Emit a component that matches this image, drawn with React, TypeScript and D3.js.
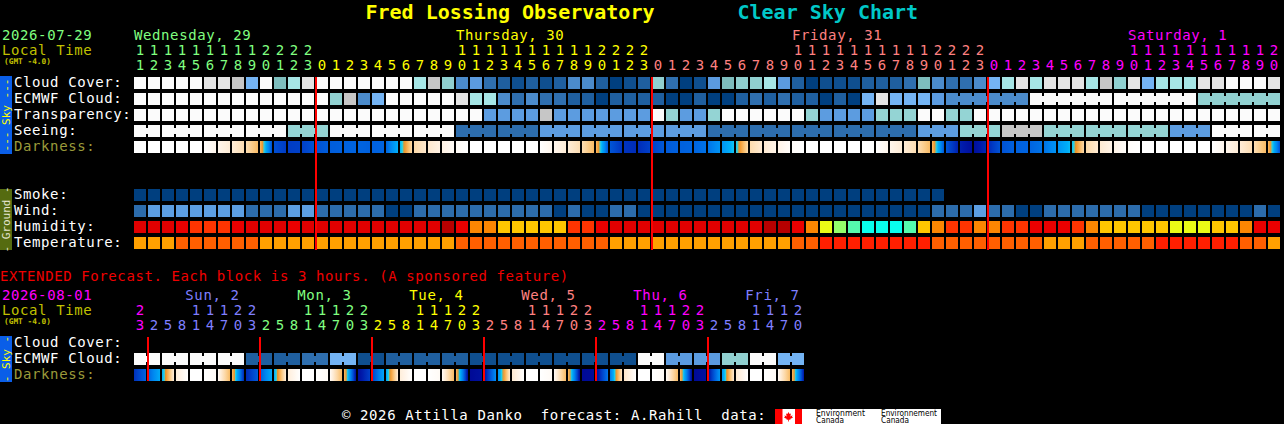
import React, { useEffect } from "react";
import * as d3 from "d3";

// ---------------- DATA ----------------
const titleText = "Fred Lossing Observatory";
const subtitleText = "Clear Sky Chart";
const mainDateText = "2026-07-29";
const extDateText = "2026-08-01";
const localTimeText = "Local Time";
const tzText = "(GMT -4.0)";
const extendedNote = "EXTENDED Forecast. Each block is 3 hours. (A sponsored feature)";
const footerText = "\u00a9 2026 Attilla Danko  forecast: A.Rahill  data:";

const skyRowLabels = ["Cloud Cover:", "ECMWF Cloud:", "Transparency:", "Seeing:", "Darkness:"];
const groundRowLabels = ["Smoke:", "Wind:", "Humidity:", "Temperature:"];
const extRowLabels = ["Cloud Cover:", "ECMWF Cloud:", "Darkness:"];

// main chart: hourly blocks
const mainDayLabels = ["Wednesday, 29", "Thursday, 30", "Friday, 31", "Saturday, 1"];
const mainDayOrdinals = [0, 1, 2, 3];
const mainDayCounts = [13, 24, 24, 21];
const mainHours = [
  11, 12, 13, 14, 15, 16, 17, 18, 19, 20, 21, 22, 23,
  0, 1, 2, 3, 4, 5, 6, 7, 8, 9, 10, 11, 12, 13, 14, 15, 16, 17, 18, 19, 20, 21, 22, 23,
  0, 1, 2, 3, 4, 5, 6, 7, 8, 9, 10, 11, 12, 13, 14, 15, 16, 17, 18, 19, 20, 21, 22, 23,
  0, 1, 2, 3, 4, 5, 6, 7, 8, 9, 10, 11, 12, 13, 14, 15, 16, 17, 18, 19, 20,
];

// cloud levels 0 (clear) .. 12 (overcast)
const cloudCover = [
  12, 12, 12, 12, 12, 11, 11, 10, 6, 12, 7, 9, 11,
  12, 12, 12, 12, 12, 12, 12, 9, 10, 8, 4, 5, 3, 2, 1, 2, 1, 2, 4, 4, 2, 0, 1, 2,
  8, 3, 0, 1, 5, 7, 8, 8, 9, 5, 2, 0, 1, 1, 1, 2, 2, 2, 3, 7, 4, 3, 3, 4,
  6, 9, 11, 9, 11, 11, 11, 9, 10, 8, 11, 6, 9, 9, 9, 11, 11, 12, 12, 12, 11,
];

// ECMWF: hourly then 6-hour groups
const ecmwfMain = [
  12, 12, 12, 12, 12, 12, 12, 12, 12, 12, 12, 12, 12,
  12, 8, 10, 4, 6, 12, 12, 12, 12, 12, 11, 9, 9, 4, 3, 4, 3, 3, 2, 2, 0, 2, 2, 2,
  2, 0, 0, 2, 0, 0, 2, 3, 2, 3, 2, 2, 0, 2, 0, 6, 11, 6, 6, 6, 5,
  4, 12, 12, 8,
];
const ecmwfMainSpans = [
  1, 1, 1, 1, 1, 1, 1, 1, 1, 1, 1, 1, 1,
  1, 1, 1, 1, 1, 1, 1, 1, 1, 1, 1, 1, 1, 1, 1, 1, 1, 1, 1, 1, 1, 1, 1, 1,
  1, 1, 1, 1, 1, 1, 1, 1, 1, 1, 1, 1, 1, 1, 1, 1, 1, 1, 1, 1, 1,
  6, 6, 6, 6,
];

// transparency / seeing: 0 too cloudy, 1..5 (5 best)
const transparency = [
  0, 0, 0, 0, 0, 0, 0, 0, 0, 0, 0, 0, 0,
  0, 0, 0, 0, 0, 0, 0, 0, 0, 0, 0, 0, 3, 3, 3, 3, 1, 3, 3, 3, 3, 3, 3, 3,
  0, 2, 3, 3, 2, 0, 0, 0, 0, 0, 0, 2, 3, 3, 3, 3, 2, 2, 2, 0, 0, 2, 2, 0,
  0, 0, 0, 0, 0, 0, 0, 0, 0, 0, 0, 0, 0, 0, 0, 0, 0, 0, 0, 0, 0,
];
const seeingSpans = [2, 3, 3, 3, 3, 3, 3, 3, 3, 3, 3, 3, 3, 3, 3, 3, 3, 3, 3, 3, 3, 3, 3, 3, 3, 3, 3, 2];
const seeing = [0, 0, 0, 0, 2, 0, 0, 0, 4, 4, 3, 3, 3, 3, 4, 4, 4, 4, 4, 3, 2, 1, 2, 2, 2, 3, 0, 0];

// darkness (limiting magnitude) at each block boundary
const darknessMain = [
  -4, -4, -4, -4, -4, -4, -3.6, -3.1, -2.4, -1.0, 4.6, 5.1, 5.0,
  4.5, 4.2, 4.1, 4.0, 4.1, 4.0, 1.6, -2.2, -2.9, -3.4, -3.8, -4, -4, -4, -4, -4, -4, -3.6, -3.1, -2.4, -1.0, 4.4, 5.3, 5.5,
  5.0, 4.3, 4.1, 4.0, 3.6, 2.6, 1.2, -2.3, -3.0, -3.5, -3.9, -4, -4, -4, -4, -4, -4, -3.6, -3.1, -2.4, -1.0, 4.4, 5.8, 6.4,
  5.6, 4.5, 4.1, 4.0, 3.6, 2.6, 1.4, -2.2, -3.0, -3.5, -3.9, -4, -4, -4, -4, -4, -4, -3.6, -3.1, -2.4, -1.0, 4.6,
];

const smoke = [
  0, 0, 0, 0, 0, 0, 0, 0, 0, 0, 0, 0, 0,
  0, 0, 0, 0, 0, 0, 0, 0, 0, 0, 0, 0, 0, 0, 0, 0, 0, 0, 0, 0, 0, 0, 0, 0,
  0, 0, 0, 0, 0, 0, 0, 0, 0, 0, 0, 0, 0, 0, 0, 0, 0, 0, 0, 0, 0,
];
// wind mph
const wind = [
  8, 14, 14, 14, 14, 14, 14, 14, 8, 8, 8, 14, 14,
  8, 8, 8, 8, 8, 3, 3, 8, 8, 8, 8, 8, 8, 8, 8, 8, 8, 3, 8, 3, 3, 8, 8, 3,
  3, 3, 3, 3, 3, 3, 3, 3, 3, 3, 3, 3, 3, 3, 3, 3, 3, 3, 3, 3, 8, 8, 8, 14,
  8, 8, 3, 3, 8, 8, 8, 8, 8, 8, 8, 3, 3, 3, 3, 3, 3, 3, 3, 8, 3,
];
// humidity %
const humidity = [
  97, 97, 97, 87, 82, 82, 82, 87, 97, 97, 97, 87, 97,
  97, 97, 97, 97, 97, 97, 97, 97, 97, 92, 87, 77, 77, 72, 72, 72, 72, 72, 82, 82, 87, 97, 97, 97,
  97, 97, 97, 97, 97, 97, 97, 97, 92, 92, 87, 77, 67, 62, 57, 52, 52, 52, 57, 72, 77, 82, 82, 77,
  77, 82, 82, 87, 87, 87, 82, 77, 72, 72, 72, 72, 72, 67, 67, 67, 72, 72, 77, 87, 87,
];
// temperature C
const temperature = [
  21, 21, 21, 25, 25, 25, 25, 25, 25, 21, 21, 21, 21,
  21, 21, 21, 21, 21, 21, 21, 21, 21, 21, 25, 25, 25, 25, 25, 25, 25, 25, 25, 25, 25, 21, 21, 21,
  21, 21, 21, 21, 21, 21, 21, 21, 21, 21, 25, 25, 29, 29, 29, 29, 29, 29, 29, 29, 25, 25, 25, 25,
  25, 25, 25, 25, 21, 21, 21, 25, 25, 25, 25, 25, 29, 29, 29, 29, 29, 29, 25, 25, 21,
];

// extended: 3-hour blocks
const extDayLabels = ["", "Sun, 2", "Mon, 3", "Tue, 4", "Wed, 5", "Thu, 6", "Fri, 7"];
const extDayOrdinals = [3, 4, 5, 6, 7, 8, 9];
const extDayCounts = [1, 8, 8, 8, 8, 8, 7];
const extHours = [
  23,
  2, 5, 8, 11, 14, 17, 20, 23,
  2, 5, 8, 11, 14, 17, 20, 23,
  2, 5, 8, 11, 14, 17, 20, 23,
  2, 5, 8, 11, 14, 17, 20, 23,
  2, 5, 8, 11, 14, 17, 20, 23,
  2, 5, 8, 11, 14, 17, 20,
];
const ecmwfExt = [12, 12, 12, 12, 2, 2, 3, 6, 1, 2, 2, 2, 1, 1, 1, 1, 1, 1, 12, 5, 5, 8, 12, 6];
const ecmwfExtSpans = [2, 2, 2, 2, 2, 2, 2, 2, 2, 2, 2, 2, 2, 2, 2, 2, 2, 2, 2, 2, 2, 2, 2, 2];
const darknessExt = [
  5.4, 4.0, 1.8, -3.2, -4, -4, -3.8, -1.0,
  5.6, 4.2, 1.8, -3.2, -4, -4, -3.8, -1.0,
  6.4, 5.0, 2.0, -3.2, -4, -4, -3.8, -1.0,
  6.6, 6.3, 2.8, -3.0, -4, -4, -3.8, -1.0,
  6.6, 6.5, 3.5, -2.8, -4, -4, -3.8, -1.0,
  6.6, 6.3, 2.5, -3.0, -4, -4, -3.8, -1.0,
  6.2,
];

// ---------------- STYLE ----------------
const FONT = "'DejaVu Sans Mono', monospace";
const FS = 14;
const LS = 0.6;
const W = 1284;
const H = 424;
const LEFT = 134;
const STEP = 14;
const BW = 12;
const BH = 12;
const ROW = 16;
const SKY_TOP = 77;
const GROUND_TOP = 189;
const EXT_TOP = 337;

const dayCycle = ["#80ff80", "#ffff00", "#ff8080", "#ff00ff", "#7f7fff"];
const dayColor = (ord: number) => dayCycle[ord % dayCycle.length];

const cloudColor = d3
  .scaleOrdinal<number, string>()
  .domain(d3.range(13))
  .range([
    "#003f7f", "#0f4f8f", "#1f5f9f", "#2f6faf", "#4b8bcb", "#5b9be0", "#74b4f4",
    "#7ebebe", "#90d0d0", "#a6e6e6", "#c6c6c6", "#e4e4e4", "#fbfbfb",
  ]);
const qualityColor = d3
  .scaleOrdinal<number, string>()
  .domain([0, 1, 2, 3, 4, 5])
  .range(["#fbfbfb", "#c6c6c6", "#94d4d4", "#5c9ce0", "#2d6dad", "#003f7f"]);
const smokeColor = d3.scaleThreshold<number, string>().domain([1, 5]).range(["#003f7f", "#4f8fcf", "#c8c8c8"]);
const windColor = d3
  .scaleThreshold<number, string>()
  .domain([6, 12, 17, 29, 46])
  .range(["#003f7f", "#2c6cac", "#5c9ee2", "#95d5d5", "#f9f9f9", "#ffffff"]);
const humidityColor = d3
  .scaleThreshold<number, string>()
  .domain([25, 30, 35, 40, 45, 50, 55, 60, 65, 70, 75, 80, 85, 90, 95])
  .range([
    "#08035d", "#0d4d8d", "#3070b0", "#4e8ece", "#71b1f1", "#80c0c0", "#09feed", "#55faad",
    "#94fe6a", "#eafb16", "#fec600", "#fc8602", "#fe3401", "#ea0000", "#b70000", "#e10000",
  ]);
const tempColor = d3.scaleThreshold<number, string>().domain([23, 27]).range(["#ffa000", "#ff5f00", "#ff1f00"]);
const darkColor = d3
  .scaleLinear<string>()
  .domain([-4, -3.6, -3, -2.2, -1.2, 0.3, 0.9, 1.6, 3.0, 4.0, 5.0, 6.0, 6.6])
  .range([
    "#ffffff", "#fff6ec", "#feead2", "#fcd9a8", "#f9c070", "#f29020", "#20d8f0",
    "#00b0f8", "#0088f0", "#0064e0", "#0040c8", "#0018a8", "#000a96",
  ])
  .interpolate(d3.interpolateRgb)
  .clamp(true);

function dayIndexPerBlock(counts: number[]) {
  const out: number[] = [];
  counts.forEach((c, d) => {
    for (let k = 0; k < c; k++) out.push(d);
  });
  return out;
}

function spanRow(
  key: string,
  values: number[],
  spans: number[],
  color: (v: number) => string,
  x: d3.ScaleLinear<number, number>,
  y: number
) {
  const els: React.ReactElement[] = [];
  let idx = 0;
  spans.forEach((len, g) => {
    const c = color(values[g]);
    for (let k = 0; k < len; k++) {
      const i = idx + k;
      els.push(<rect key={`${key}-b${i}`} x={x(i)} y={y} width={BW} height={BH} fill={c} />);
      if (k < len - 1)
        els.push(
          <rect key={`${key}-c${i}`} x={x(i) + BW} y={y + 3} width={x(i + 1) - x(i) - BW} height={BH - 6} fill={c} />
        );
    }
    idx += len;
  });
  return els;
}

function hourlyRow(key: string, values: number[], color: (v: number) => string, x: d3.ScaleLinear<number, number>, y: number) {
  return values.map((v, i) => <rect key={`${key}-${i}`} x={x(i)} y={y} width={BW} height={BH} fill={color(v)} />);
}

function darkRow(key: string, bounds: number[], x: d3.ScaleLinear<number, number>, y: number) {
  const defs: React.ReactElement[] = [];
  const rects: React.ReactElement[] = [];
  const stops = d3.range(0, 1.0001, 1 / 10);
  for (let i = 0; i < bounds.length - 1; i++) {
    const a = bounds[i];
    const b = bounds[i + 1];
    const id = `${key}-g${i}`;
    defs.push(
      <linearGradient key={id} id={id} x1="0" x2="1" y1="0" y2="0">
        {stops.map((t, k) => (
          <stop key={k} offset={t} stopColor={darkColor(a + (b - a) * t)} />
        ))}
      </linearGradient>
    );
    rects.push(<rect key={`${key}-r${i}`} x={x(i)} y={y} width={BW} height={BH} fill={`url(#${id})`} />);
  }
  return { defs, rects };
}

function SideBar({ y, h, text, bg, fg }: { y: number; h: number; text: string; bg: string; fg: string }) {
  return (
    <g>
      <rect x={0} y={y} width={12} height={h} fill={bg} />
      <text
        transform={`translate(6.5, ${y + h / 2}) rotate(-90)`}
        textAnchor="middle"
        dominantBaseline="central"
        fontFamily={FONT}
        fontSize={11}
        fill={fg}
        style={{ whiteSpace: "pre" }}
      >
        {text}
      </text>
    </g>
  );
}

export default function App() {
  useEffect(() => {
    document.body.style.margin = "0";
    document.body.style.background = "#000";
  }, []);

  const xMain = d3.scaleLinear().domain([0, mainHours.length]).range([LEFT, LEFT + STEP * mainHours.length]);
  const xExt = d3.scaleLinear().domain([0, extHours.length]).range([LEFT, LEFT + STEP * extHours.length]);
  const ySky = d3.scaleLinear().domain([0, 1]).range([SKY_TOP, SKY_TOP + ROW]);
  const yGround = d3.scaleLinear().domain([0, 1]).range([GROUND_TOP, GROUND_TOP + ROW]);
  const yExt = d3.scaleLinear().domain([0, 1]).range([EXT_TOP, EXT_TOP + ROW]);

  const mainDayOf = dayIndexPerBlock(mainDayCounts);
  const extDayOf = dayIndexPerBlock(extDayCounts);
  const mainDayFirst = mainDayCounts.map((_, d) => mainDayOf.indexOf(d));
  const extDayFirst = extDayCounts.map((_, d) => extDayOf.indexOf(d));

  const dMain = darkRow("dm", darknessMain, xMain, ySky(4));
  const dExt = darkRow("de", darknessExt, xExt, yExt(2));

  const txt = (props: any, s: string) => (
    <text fontFamily={FONT} fontSize={FS} letterSpacing={LS} style={{ whiteSpace: "pre" }} {...props}>
      {s}
    </text>
  );

  // main day labels: at 10:00 of each day (or first block)
  const mainDayLabelX = mainDayLabels.map((_, d) => {
    const first = mainDayFirst[d];
    const i10 = mainHours.findIndex((h, i) => mainDayOf[i] === d && h === 10);
    return i10 >= 0 ? xMain(i10) : xMain(first);
  });
  // extended: 3-hour blocks, 10:00 sits one third of a block before the 11:00 block
  const extDayLabelX = extDayLabels.map((_, d) => {
    const i11 = extHours.findIndex((h, i) => extDayOf[i] === d && h === 11);
    return i11 >= 0 ? xExt(i11 - 1 / 3) : xExt(extDayFirst[d]);
  });

  const leaf =
    "M0,-4 L1,-2.2 L2.2,-2.7 L1.7,0 L3.6,-1.2 L3.2,0.4 L4.2,1 L1.5,2.2 L1.8,3.2 L0.35,2.8 L0.35,4.6 L-0.35,4.6 L-0.35,2.8 L-1.8,3.2 L-1.5,2.2 L-4.2,1 L-3.2,0.4 L-3.6,-1.2 L-1.7,0 L-2.2,-2.7 L-1,-2.2 Z";

  return (
    <svg width={W} height={H} style={{ position: "fixed", left: 0, top: 0, display: "block" }}>
      <defs>
        {dMain.defs}
        {dExt.defs}
      </defs>
      <rect x={0} y={0} width={W} height={H} fill="#000" />

      {/* titles */}
      <text x={365.5} y={18.5} fontFamily={FONT} fontSize={20} fontWeight="bold" fill="#ffff00">
        {titleText}
      </text>
      <text x={737.5} y={18.5} fontFamily={FONT} fontSize={20} fontWeight="bold" fill="#00c8c8">
        {subtitleText}
      </text>

      {/* main header */}
      {txt({ x: 2, y: 39.5, fill: dayColor(mainDayOrdinals[0]) }, mainDateText)}
      {txt({ x: 2, y: 55, fill: "#c0c000" }, localTimeText)}
      <text x={4} y={64} fontFamily={FONT} fontSize={7.8} fontWeight="bold" fill="#c0c000">
        {tzText}
      </text>
      {mainDayLabels.map((s, d) => (
        <React.Fragment key={`mdl${d}`}>
          {txt({ x: mainDayLabelX[d], y: 39.5, fill: dayColor(mainDayOrdinals[d]) }, s)}
        </React.Fragment>
      ))}
      {mainHours.map((h, i) => {
        const c = dayColor(mainDayOrdinals[mainDayOf[i]]);
        const cx = xMain(i) + BW / 2;
        return (
          <g key={`mh${i}`} fontFamily={FONT} fontSize={FS} fill={c} textAnchor="middle">
            {h >= 10 && (
              <text x={cx} y={55}>
                {Math.floor(h / 10)}
              </text>
            )}
            <text x={cx} y={70}>
              {h % 10}
            </text>
          </g>
        );
      })}

      {/* side bars */}
      <SideBar y={76} h={78} text="--- Sky ---" bg="#0a5ee8" fg="#ffff00" />
      <SideBar y={189} h={61} text="- Ground -" bg="#556b10" fg="#e6e6d0" />
      <SideBar y={336} h={46} text="- Sky -" bg="#0a5ee8" fg="#ffff00" />

      {/* row labels */}
      {skyRowLabels.map((s, r) => (
        <React.Fragment key={`sl${r}`}>
          {txt({ x: 14, y: ySky(r) + 9.5, fill: r === 4 ? "#9a9a3a" : "#ffffff" }, s)}
        </React.Fragment>
      ))}
      {groundRowLabels.map((s, r) => (
        <React.Fragment key={`gl${r}`}>{txt({ x: 14, y: yGround(r) + 9.5, fill: "#ffffff" }, s)}</React.Fragment>
      ))}

      {/* sky rows */}
      {hourlyRow("cc", cloudCover, (v) => cloudColor(v), xMain, ySky(0))}
      {spanRow("ec", ecmwfMain, ecmwfMainSpans, (v) => cloudColor(v), xMain, ySky(1))}
      {hourlyRow("tr", transparency, (v) => qualityColor(v), xMain, ySky(2))}
      {spanRow("se", seeing, seeingSpans, (v) => qualityColor(v), xMain, ySky(3))}
      {dMain.rects}

      {/* ground rows */}
      {hourlyRow("sm", smoke, (v) => smokeColor(v), xMain, yGround(0))}
      {hourlyRow("wi", wind, (v) => windColor(v), xMain, yGround(1))}
      {hourlyRow("hu", humidity, (v) => humidityColor(v), xMain, yGround(2))}
      {hourlyRow("te", temperature, (v) => tempColor(v), xMain, yGround(3))}

      {/* midnight lines main */}
      {mainDayFirst.slice(1).map((i, k) => (
        <rect key={`ml${k}`} x={xMain(i) - 1} y={SKY_TOP} width={2} height={yGround(3) + BH + 1 - SKY_TOP} fill="#ff0000" />
      ))}

      {/* extended */}
      {txt({ x: 0, y: 281, fill: "#f00000" }, extendedNote)}
      {txt({ x: 2, y: 300, fill: dayColor(extDayOrdinals[0]) }, extDateText)}
      {txt({ x: 2, y: 315, fill: "#c0c000" }, localTimeText)}
      <text x={4} y={324} fontFamily={FONT} fontSize={7.8} fontWeight="bold" fill="#c0c000">
        {tzText}
      </text>
      {extDayLabels.map((s, d) =>
        s ? (
          <React.Fragment key={`edl${d}`}>
            {txt({ x: extDayLabelX[d], y: 300, fill: dayColor(extDayOrdinals[d]) }, s)}
          </React.Fragment>
        ) : null
      )}
      {extHours.map((h, i) => {
        const c = dayColor(extDayOrdinals[extDayOf[i]]);
        const cx = xExt(i) + BW / 2;
        return (
          <g key={`eh${i}`} fontFamily={FONT} fontSize={FS} fill={c} textAnchor="middle">
            {h >= 10 && (
              <text x={cx} y={314.5}>
                {Math.floor(h / 10)}
              </text>
            )}
            <text x={cx} y={329.5}>
              {h % 10}
            </text>
          </g>
        );
      })}
      {extRowLabels.map((s, r) => (
        <React.Fragment key={`el${r}`}>
          {txt({ x: 14, y: yExt(r) + 9.5, fill: r === 2 ? "#9a9a3a" : "#ffffff" }, s)}
        </React.Fragment>
      ))}
      {spanRow("ee", ecmwfExt, ecmwfExtSpans, (v) => cloudColor(v), xExt, yExt(1))}
      {dExt.rects}
      {extDayFirst.slice(1).map((i, k) => (
        <rect key={`xl${k}`} x={xExt(i) - 1} y={EXT_TOP} width={2} height={yExt(2) + BH - EXT_TOP} fill="#ff0000" />
      ))}

      {/* footer */}
      {txt({ x: 342, y: 420, fill: "#ffffff" }, footerText)}
      <g>
        <rect x={775} y={409} width={166} height={15} fill="#ffffff" />
        <rect x={775} y={409} width={7.5} height={15} fill="#ff0000" />
        <rect x={795} y={409} width={7} height={15} fill="#ff0000" />
        <path d={leaf} transform="translate(788.5,416.5) scale(1.1)" fill="#ff0000" />
        <text x={816} y={415.5} fontFamily="'DejaVu Sans', sans-serif" fontSize={8} fill="#000" textLength={49} lengthAdjust="spacingAndGlyphs">
          Environment
        </text>
        <text x={816} y={423} fontFamily="'DejaVu Sans', sans-serif" fontSize={8} fill="#000" textLength={28} lengthAdjust="spacingAndGlyphs">
          Canada
        </text>
        <text x={881} y={415.5} fontFamily="'DejaVu Sans', sans-serif" fontSize={8} fill="#000" textLength={56} lengthAdjust="spacingAndGlyphs">
          Environnement
        </text>
        <text x={881} y={423} fontFamily="'DejaVu Sans', sans-serif" fontSize={8} fill="#000" textLength={28} lengthAdjust="spacingAndGlyphs">
          Canada
        </text>
      </g>
    </svg>
  );
}
